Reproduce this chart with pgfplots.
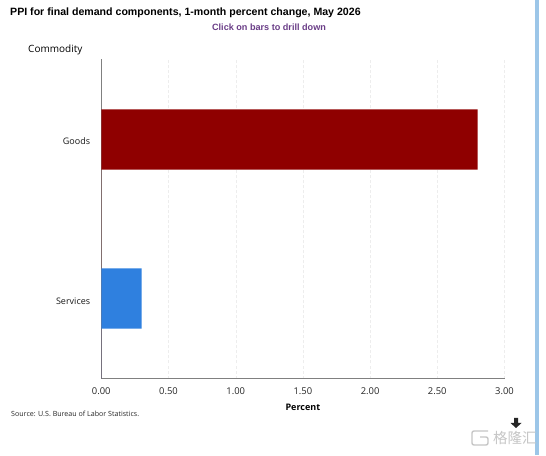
\documentclass[border=0pt]{standalone}
\usepackage{pgfplots}
\pgfplotsset{compat=1.18}
\usepackage{fontspec}
\setmainfont{Open Sans}
\newfontfamily\arial{Liberation Sans}
\newfontfamily\cjk{Noto Sans CJK SC}
\definecolor{goods}{HTML}{8F0000}
\definecolor{services}{HTML}{2F80DF}
\definecolor{strip}{HTML}{9CC6E8}
\definecolor{purp}{HTML}{6A3D87}
\begin{document}
\begin{tikzpicture}[x=1pt,y=1pt]
\path[fill=white] (0,0) rectangle (546,455);
\fill[strip] (535,0) rectangle (539,455);
\begin{axis}[
  at={(101.3pt,76.5pt)},anchor=south west,
  scale only axis,width=403.2pt,height=319pt,
  xmin=0,xmax=3,ymin=0,ymax=2,
  axis lines=left,axis line style={draw=gray,line width=0.8pt,-},
  xtick={0,0.5,1,1.5,2,2.5,3},
  xticklabels={0.00,0.50,1.00,1.50,2.00,2.50,3.00},
  ytick={0.5,1.5},yticklabels={Services,Goods},
  tick style={draw=none},
  xmajorgrids,grid style={draw=gray!14,densely dashed,line width=0.4pt},
  xticklabel style={font=\fontsize{9.4}{11}\selectfont,text=black!85,yshift=-3.5pt},
  yticklabel style={font=\fontsize{9}{11}\selectfont,text=black!90,xshift=-5.5pt,yshift=-2pt},
  xlabel={\textbf{Percent}},
  xlabel style={font=\fontsize{9}{11}\selectfont,yshift=-2.5pt},
  clip=false,
]
\addplot[fill=goods,draw=none,area legend] coordinates {(0,1.31) (2.8,1.31) (2.8,1.688) (0,1.688)} \closedcycle;
\addplot[fill=services,draw=none,area legend] coordinates {(0,0.312) (0.3,0.312) (0.3,0.69) (0,0.69)} \closedcycle;
\end{axis}
\node[anchor=west,inner sep=0pt,font=\arial\bfseries\fontsize{10.6}{12}\selectfont] at (10,442.5) {PPI for final demand components, 1-month percent change, May 2026};
\node[anchor=center,inner sep=0pt,font=\arial\bfseries\fontsize{9.1}{11}\selectfont,text=purp] at (269,428.2) {Click on bars to drill down};
\node[anchor=west,inner sep=0pt,font=\fontsize{10}{12}\selectfont] at (28,405.5) {Commodity};
\node[anchor=west,inner sep=0pt,font=\fontsize{7.1}{8}\selectfont,text=black!85] at (11,41.3) {Source: U.S. Bureau of Labor Statistics.};
\fill[gray!30!black] (514,37) -- (518,37) -- (518,32) -- (521.5,32) -- (516,27) -- (510.5,32) -- (514,32) -- cycle;
\draw[gray!45,line width=1.4pt,rounded corners=2pt] (488,24) -- (472,24) -- (472,10) -- (488,10) -- (488,18) -- (480,18);
\node[anchor=west,inner sep=0pt,font=\cjk\fontsize{14.5}{15}\selectfont,text=gray!45] at (493,17) {格隆汇};
\end{tikzpicture}
\end{document}
